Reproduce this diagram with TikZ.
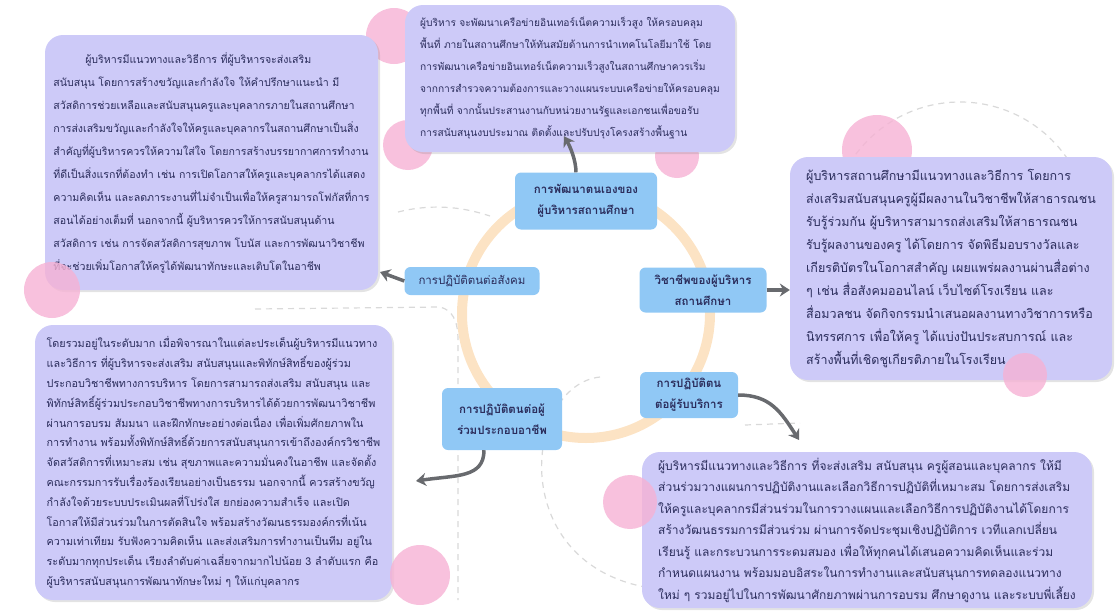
\documentclass[tikz,border=0pt]{standalone}
\usepackage{fontspec}
\newfontfamily\thaifont[Script=Thai]{Loma}
\usetikzlibrary{arrows.meta,shadows,positioning}
\definecolor{lav}{HTML}{CDCAF8}
\definecolor{topicc}{HTML}{90C8F5}
\definecolor{ink}{HTML}{2B2D5C}
\definecolor{ringc}{HTML}{FCE3C4}
\definecolor{dotc}{HTML}{F6B2D4}
\definecolor{arr}{HTML}{686A6E}
\begin{document}
\begin{tikzpicture}[x=1pt,y=-1pt,
  note/.style={fill=lav, rounded corners=18pt, text=ink, align=left, inner sep=0pt,
    drop shadow={opacity=.22, shadow xshift=2pt, shadow yshift=-2pt}},
  topic/.style={fill=topicc, rounded corners=6pt, text=ink, align=center, inner sep=2pt,
    font=\thaifont\bfseries\fontsize{11.5}{21}\selectfont},
  dot/.style={fill=dotc, opacity=.8},
  guide/.style={draw=gray!30, dashed, line width=1.2pt, dash pattern=on 6pt off 5pt},
  link/.style={draw=arr, line width=3.5pt, -{Stealth[length=10pt,width=13pt]}},
]
\useasboundingbox (0,0) rectangle (1117,616);

\draw[guide] (960,232) circle[radius=130pt];
\draw[guide] (398,212) .. controls (430,204) and (460,206) .. (490,216);
\draw[guide] (255,309) -- (440,307) .. controls (452,310) and (458,320) .. (458,340) -- (458,600);
\draw[guide] (600,377) .. controls (525,385) and (505,560) .. (645,587);
\draw[guide] (745,425) -- (800,423);

\draw[ringc, line width=10pt] (586,314) circle[radius=124pt];

\fill[dot] (877,150) circle[radius=35pt];
\fill[dot] (408,145) circle[radius=25pt];
\fill[dot] (394,36) circle[radius=28pt];
\fill[dot] (677,156) circle[radius=22pt];

\node[note, minimum width=333pt, minimum height=255pt, font=\thaifont\fontsize{10.6}{23}\selectfont] (soc) at (211.5,162.5) {%
\hspace*{3em}ผู้บริหารมีแนวทางและวิธีการ ที่ผู้บริหารจะส่งเสริม\\
สนับสนุน โดยการสร้างขวัญและกำลังใจ ให้คำปรึกษาแนะนำ มี\\
สวัสดิการช่วยเหลือและสนับสนุนครูและบุคลากรภายในสถานศึกษา\\
การส่งเสริมขวัญและกำลังใจให้ครูและบุคลากรในสถานศึกษาเป็นสิ่ง\\
สำคัญที่ผู้บริหารควรให้ความใส่ใจ โดยการสร้างบรรยากาศการทำงาน\\
ที่ดีเป็นสิ่งแรกที่ต้องทำ เช่น การเปิดโอกาสให้ครูและบุคลากรได้แสดง\\
ความคิดเห็น และลดภาระงานที่ไม่จำเป็นเพื่อให้ครูสามารถโฟกัสที่การ\\
สอนได้อย่างเต็มที่ นอกจากนี้ ผู้บริหารควรให้การสนับสนุนด้าน\\
สวัสดิการ เช่น การจัดสวัสดิการสุขภาพ โบนัส และการพัฒนาวิชาชีพ\\
ที่จะช่วยเพิ่มโอกาสให้ครูได้พัฒนาทักษะและเติบโตในอาชีพ};

\node[note, minimum width=330pt, minimum height=147pt, font=\thaifont\fontsize{10.2}{22}\selectfont] (dev) at (570,78.5) {%
ผู้บริหาร จะพัฒนาเครือข่ายอินเทอร์เน็ตความเร็วสูง ให้ครอบคลุม\\
พื้นที่ ภายในสถานศึกษาให้ทันสมัยด้านการนำเทคโนโลยีมาใช้ โดย\\
การพัฒนาเครือข่ายอินเทอร์เน็ตความเร็วสูงในสถานศึกษาควรเริ่ม\\
จากการสำรวจความต้องการและวางแผนระบบเครือข่ายให้ครอบคลุม\\
ทุกพื้นที่ จากนั้นประสานงานกับหน่วยงานรัฐและเอกชนเพื่อขอรับ\\
การสนับสนุนงบประมาณ ติดตั้งและปรับปรุงโครงสร้างพื้นฐาน};

\node[note, minimum width=322pt, minimum height=223pt, font=\thaifont\fontsize{12.5}{23}\selectfont] (pro) at (951,268.5) {%
ผู้บริหารสถานศึกษามีแนวทางและวิธีการ โดยการ\\
ส่งเสริมสนับสนุนครูผู้มีผลงานในวิชาชีพให้สาธารณชน\\
รับรู้ร่วมกัน ผู้บริหารสามารถส่งเสริมให้สาธารณชน\\
รับรู้ผลงานของครู ได้โดยการ จัดพิธีมอบรางวัลและ\\
เกียรติบัตรในโอกาสสำคัญ เผยแพร่ผลงานผ่านสื่อต่าง\\
ๆ เช่น สื่อสังคมออนไลน์ เว็บไซต์โรงเรียน และ\\
สื่อมวลชน จัดกิจกรรมนำเสนอผลงานทางวิชาการหรือ\\
นิทรรศการ เพื่อให้ครู ได้แบ่งปันประสบการณ์ และ\\
สร้างพื้นที่เชิดชูเกียรติภายในโรงเรียน};

\node[note, minimum width=357pt, minimum height=275pt, font=\thaifont\fontsize{10.8}{19.8}\selectfont] (col) at (213.5,462.5) {%
โดยรวมอยู่ในระดับมาก เมื่อพิจารณาในแต่ละประเด็นผู้บริหารมีแนวทาง\\
และวิธีการ ที่ผู้บริหารจะส่งเสริม สนับสนุนและพิทักษ์สิทธิ์ของผู้ร่วม\\
ประกอบวิชาชีพทางการบริหาร โดยการสามารถส่งเสริม สนับสนุน และ\\
พิทักษ์สิทธิ์ผู้ร่วมประกอบวิชาชีพทางการบริหารได้ด้วยการพัฒนาวิชาชีพ\\
ผ่านการอบรม สัมมนา และฝึกทักษะอย่างต่อเนื่อง เพื่อเพิ่มศักยภาพใน\\
การทำงาน พร้อมทั้งพิทักษ์สิทธิ์ด้วยการสนับสนุนการเข้าถึงองค์กรวิชาชีพ\\
จัดสวัสดิการที่เหมาะสม เช่น สุขภาพและความมั่นคงในอาชีพ และจัดตั้ง\\
คณะกรรมการรับเรื่องร้องเรียนอย่างเป็นธรรม นอกจากนี้ ควรสร้างขวัญ\\
กำลังใจด้วยระบบประเมินผลที่โปร่งใส ยกย่องความสำเร็จ และเปิด\\
โอกาสให้มีส่วนร่วมในการตัดสินใจ พร้อมสร้างวัฒนธรรมองค์กรที่เน้น\\
ความเท่าเทียม รับฟังความคิดเห็น และส่งเสริมการทำงานเป็นทีม อยู่ใน\\
ระดับมากทุกประเด็น เรียงลำดับค่าเฉลี่ยจากมากไปน้อย 3 ลำดับแรก คือ\\
ผู้บริหารสนับสนุนการพัฒนาทักษะใหม่ ๆ ให้แก่บุคลากร};

\node[note, minimum width=450pt, minimum height=156pt, font=\thaifont\fontsize{12}{21.5}\selectfont] (cli) at (867,530) {%
ผู้บริหารมีแนวทางและวิธีการ ที่จะส่งเสริม สนับสนุน ครูผู้สอนและบุคลากร ให้มี\\
ส่วนร่วมวางแผนการปฏิบัติงานและเลือกวิธีการปฏิบัติที่เหมาะสม โดยการส่งเสริม\\
ให้ครูและบุคลากรมีส่วนร่วมในการวางแผนและเลือกวิธีการปฏิบัติงานได้โดยการ\\
สร้างวัฒนธรรมการมีส่วนร่วม ผ่านการจัดประชุมเชิงปฏิบัติการ เวทีแลกเปลี่ยน\\
เรียนรู้ และกระบวนการระดมสมอง เพื่อให้ทุกคนได้เสนอความคิดเห็นและร่วม\\
กำหนดแผนงาน พร้อมมอบอิสระในการทำงานและสนับสนุนการทดลองแนวทาง\\
ใหม่ ๆ รวมอยู่ไปในการพัฒนาศักยภาพผ่านการอบรม ศึกษาดูงาน และระบบพี่เลี้ยง};

\fill[dot] (1025,375) circle[radius=22pt];
\fill[dot] (52,290) circle[radius=28pt];
\fill[dot] (420,575) circle[radius=30pt];
\fill[dot] (630,502) circle[radius=27pt];

\node[topic, minimum width=142pt, minimum height=57pt] (tdev) at (586,201) {การพัฒนาตนเองของ\\ผู้บริหารสถานศึกษา};
\node[topic, minimum width=135pt, minimum height=28pt, font=\thaifont\fontsize{11.5}{21}\selectfont] (tsoc) at (472,281) {การปฏิบัติตนต่อสังคม};
\node[topic, minimum width=127pt, minimum height=45pt] (tpro) at (703,290) {วิชาชีพของผู้บริหาร\\สถานศึกษา};
\node[topic, minimum width=98pt, minimum height=46pt] (tcli) at (689,395) {การปฏิบัติตน\\ต่อผู้รับบริการ};
\node[topic, minimum width=120pt, minimum height=62pt] (tcol) at (502,419) {การปฏิบัติตนต่อผู้\\ร่วมประกอบอาชีพ};

\coordinate (socend) at (380,272);
\coordinate (cliend) at (799,440);
\coordinate (colend) at (416,481);

\draw[link] ([xshift=-10pt]tdev.north) .. controls +(0,-12) and +(6,10) .. ([xshift=-6pt,yshift=16pt]dev.south);
\draw[link] (tsoc.west) -- (socend);
\draw[link] (tpro.east) -- (tpro.east -| pro.west);
\draw[link] (tcli.east) .. controls +(32,0) and +(-18,-28) .. (cliend);
\draw[link] ([xshift=-18pt]tcol.south) .. controls +(0,28) and +(40,-6) .. (colend);
\end{tikzpicture}
\end{document}
